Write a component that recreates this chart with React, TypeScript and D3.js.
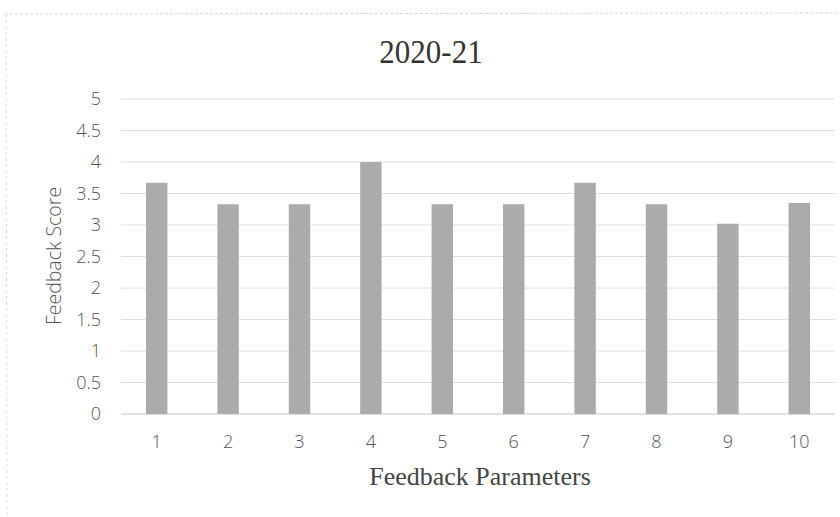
import { useRef, useEffect } from "react";
import * as d3 from "d3";

// values
const params = ["1", "2", "3", "4", "5", "6", "7", "8", "9", "10"];
const scores = [3.67, 3.33, 3.33, 4.0, 3.33, 3.33, 3.67, 3.33, 3.02, 3.35];
const yTicks = [0, 0.5, 1, 1.5, 2, 2.5, 3, 3.5, 4, 4.5, 5];

const title = "2020-21";
const xTitle = "Feedback Parameters";
const yTitle = "Feedback Score";

const W = 840;
const H = 517;

export default function App() {
  const svgRef = useRef(null);

  useEffect(() => {
    const svg = d3.select(svgRef.current);
    svg.selectAll("*").remove();

    const x = d3.scaleBand().domain(params).range([121, 835]).paddingInner(0.7).paddingOuter(0.35);
    const y = d3.scaleLinear().domain([0, 5]).range([414, 99]);

    // faint chart-area border from the scan
    svg.append("line").attr("x1", 5).attr("x2", W).attr("y1", 14).attr("y2", 13)
      .attr("stroke", "#d6d6d6").attr("stroke-dasharray", "3,2");
    svg.append("line").attr("x1", 6).attr("x2", 7).attr("y1", 14).attr("y2", H)
      .attr("stroke", "#dcdcdc").attr("stroke-dasharray", "3,3");

    const grid = svg.append("g");
    grid.selectAll("line")
      .data(yTicks)
      .enter()
      .append("line")
      .attr("x1", 121)
      .attr("x2", 835)
      .attr("y1", (d) => y(d))
      .attr("y2", (d) => y(d))
      .attr("stroke", (d) => (d === 0 ? "#c4c4c4" : "#dedede"))
      .attr("stroke-width", 1);

    svg.append("g")
      .selectAll("rect")
      .data(scores)
      .enter()
      .append("rect")
      .attr("x", (d, i) => x(params[i]))
      .attr("width", x.bandwidth())
      .attr("y", (d) => y(d))
      .attr("height", (d) => y(0) - y(d))
      .attr("fill", "#ababab");

    const tickFont = "'Open Sans', 'Noto Sans', sans-serif";

    svg.append("g")
      .selectAll("text")
      .data(yTicks)
      .enter()
      .append("text")
      .attr("x", 101)
      .attr("y", (d) => y(d))
      .attr("dy", "0.35em")
      .attr("text-anchor", "end")
      .attr("font-family", tickFont)
      .attr("font-weight", 300)
      .attr("font-size", 18)
      .attr("fill", "#555")
      .text((d) => String(d));

    svg.append("g")
      .selectAll("text")
      .data(params)
      .enter()
      .append("text")
      .attr("x", (d) => x(d) + x.bandwidth() / 2)
      .attr("y", 448)
      .attr("text-anchor", "middle")
      .attr("font-family", tickFont)
      .attr("font-weight", 300)
      .attr("font-size", 18)
      .attr("fill", "#555")
      .text((d) => d);

    svg.append("text")
      .attr("transform", `translate(61,256)rotate(-90)`)
      .attr("text-anchor", "middle")
      .attr("font-family", tickFont)
      .attr("font-weight", 300)
      .attr("font-size", 19.5)
      .attr("fill", "#555")
      .text(yTitle);

    svg.append("text")
      .attr("transform", "translate(431,63)scale(1,1.12)")
      .attr("text-anchor", "middle")
      .attr("font-family", "'Liberation Serif', serif")
      .attr("font-size", 31)
      .attr("fill", "#333")
      .text(title);

    svg.append("text")
      .attr("x", 480)
      .attr("y", 485)
      .attr("text-anchor", "middle")
      .attr("font-family", "'Liberation Serif', serif")
      .attr("font-size", 26)
      .attr("fill", "#444")
      .text(xTitle);
  }, []);

  return (
    <svg
      ref={svgRef}
      width={W}
      height={H}
      style={{ position: "absolute", left: 0, top: 0, background: "#fff" }}
    ></svg>
  );
}
